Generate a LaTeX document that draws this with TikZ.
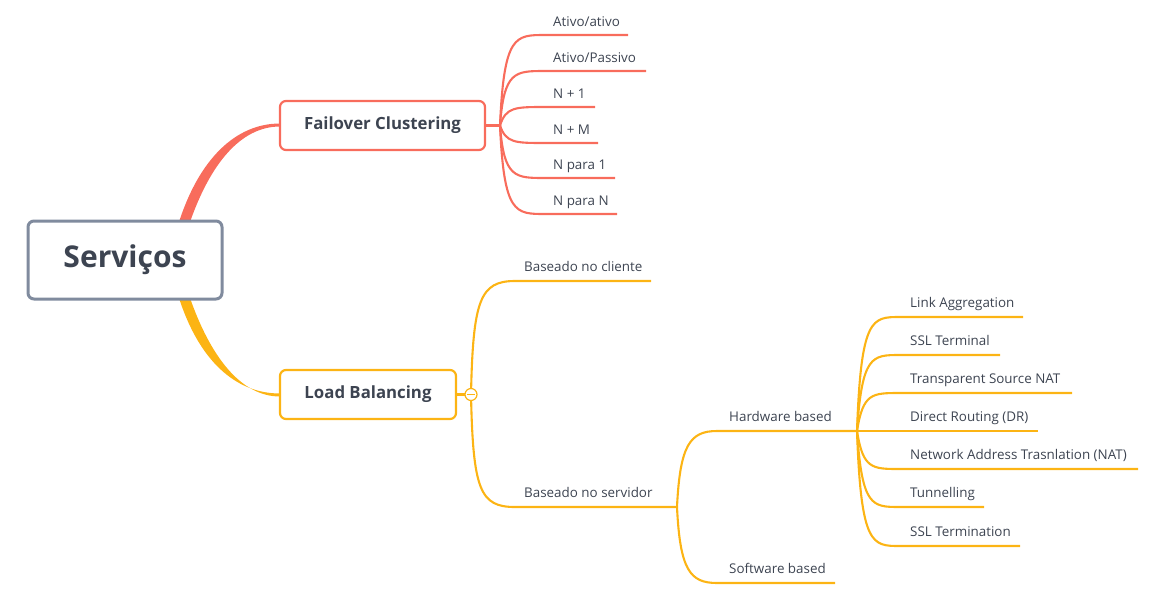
\documentclass[tikz,border=0pt]{standalone}
\usepackage{fontspec}
\setmainfont{Open Sans}
\definecolor{fcc}{RGB}{248,108,92}
\definecolor{lbc}{RGB}{252,180,20}
\definecolor{rootc}{RGB}{128,139,158}
\definecolor{txtc}{RGB}{61,68,81}
\begin{document}
\begin{tikzpicture}[x=1pt,y=-1pt,
  leaf/.style={anchor=base west, inner sep=0pt, text=txtc, font=\fontsize{13.4}{15}\selectfont},
  topic/.style={draw, line width=2.2, rounded corners=6, fill=white, text=txtc, font=\bfseries\fontsize{16.8}{20}\selectfont},
  fcl/.style={draw=fcc, line width=2.1},
  lbl/.style={draw=lbc, line width=2.1}]
\useasboundingbox (0,0) rectangle (1162,603);
% main tapered branches
\fill[fcc] (179,222) .. controls (199,160) and (235,123.5) .. (280,123.5) -- (280,126.5) .. controls (240,126.5) and (210,165) .. (190,222) -- cycle;
\fill[lbc] (179,298) .. controls (199,360) and (235,393.5) .. (280,393.5) -- (280,396.5) .. controls (240,396.5) and (210,355) .. (190,298) -- cycle;
\node[draw=rootc, line width=3, rounded corners=6, minimum width=194, minimum height=78, fill=white, text=txtc, font=\bfseries\fontsize{30}{36}\selectfont] (root) at (125,260) {Serviços};
\node[topic, draw=fcc, minimum width=205, minimum height=49] (fc) at (382.5,125.5) {Failover Clustering};
\node[topic, draw=lbc, minimum width=176, minimum height=49] (lb) at (368,394.5) {Load Balancing};
% Failover children
\coordinate (fo) at (500,125.5);
\draw[fcl] (fc.east) -- (fo);
\coordinate (a1) at (628,35);
\coordinate (a2) at (646,71);
\coordinate (a3) at (595,107);
\coordinate (a4) at (598,143);
\coordinate (a5) at (615,178);
\coordinate (a6) at (617,214);
\draw[fcl] (fo) .. controls (504,35) and (515,35) .. (545,35) -- (a1);
\draw[fcl] (fo) .. controls (504,71) and (515,71) .. (545,71) -- (a2);
\draw[fcl] (fo) .. controls (506,107) and (515,107) .. (545,107) -- (a3);
\draw[fcl] (fo) .. controls (506,143) and (515,143) .. (545,143) -- (a4);
\draw[fcl] (fo) .. controls (504,178) and (515,178) .. (545,178) -- (a5);
\draw[fcl] (fo) .. controls (504,214) and (515,214) .. (545,214) -- (a6);
\node[leaf] (t1) at (553,26) {Ativo/ativo};
\node[leaf] (t2) at (553,62) {Ativo/Passivo};
\node[leaf] (t3) at (553,98) {N + 1};
\node[leaf] (t4) at (553,134) {N + M};
\node[leaf] (t5) at (553,169) {N para 1};
\node[leaf] (t6) at (553,205) {N para N};
% Load balancing children
\coordinate (lo) at (471,394.5);
\coordinate (c1) at (651,281);
\coordinate (c2) at (677,507);
\draw[lbl] (lb.east) -- (lo);
\draw[lbl] (lo) .. controls (473,300) and (480,281) .. (515,281) -- (c1);
\draw[lbl] (lo) .. controls (473,490) and (480,507) .. (515,507) -- (c2);
\node[circle, draw=lbc, fill=white, line width=1.2, minimum size=12, inner sep=0pt] (col) at (lo) {};
\draw[lbc, line width=1] ([xshift=3]col.west) -- ([xshift=-3]col.east);
\node[leaf] (u1) at (524,271) {Baseado no cliente};
\node[leaf] (u2) at (524,497) {Baseado no servidor};
% servidor children
\coordinate (hw) at (857,431);
\coordinate (sw) at (835,583);
\draw[lbl] (c2) .. controls (680,445) and (690,431) .. (717,431) -- (hw);
\draw[lbl] (c2) .. controls (680,570) and (690,583) .. (717,583) -- (sw);
\node[leaf] (h0) at (729,421) {Hardware based};
\node[leaf] (s0) at (729,573) {Software based};
% hardware children
\coordinate (e1) at (1023,317);
\coordinate (e2) at (1000,355);
\coordinate (e3) at (1072,393);
\coordinate (e4) at (1038,431);
\coordinate (e5) at (1138,469);
\coordinate (e6) at (984,507);
\coordinate (e7) at (1020,546);
\draw[lbl] (hw) .. controls (861,317) and (872,317) .. (900,317) -- (e1);
\draw[lbl] (hw) .. controls (862,355) and (872,355) .. (900,355) -- (e2);
\draw[lbl] (hw) .. controls (863,393) and (872,393) .. (900,393) -- (e3);
\draw[lbl] (hw) -- (e4);
\draw[lbl] (hw) .. controls (863,469) and (872,469) .. (900,469) -- (e5);
\draw[lbl] (hw) .. controls (862,507) and (872,507) .. (900,507) -- (e6);
\draw[lbl] (hw) .. controls (861,546) and (872,546) .. (900,546) -- (e7);
\node[leaf] (l1) at (910,307) {Link Aggregation};
\node[leaf] (l2) at (910,345) {SSL Terminal};
\node[leaf] (l3) at (910,383) {Transparent Source NAT};
\node[leaf] (l4) at (910,421) {Direct Routing (DR)};
\node[leaf] (l5) at (910,459) {Network Address Trasnlation (NAT)};
\node[leaf] (l6) at (910,497) {Tunnelling};
\node[leaf] (l7) at (910,536) {SSL Termination};
\end{tikzpicture}
\end{document}
